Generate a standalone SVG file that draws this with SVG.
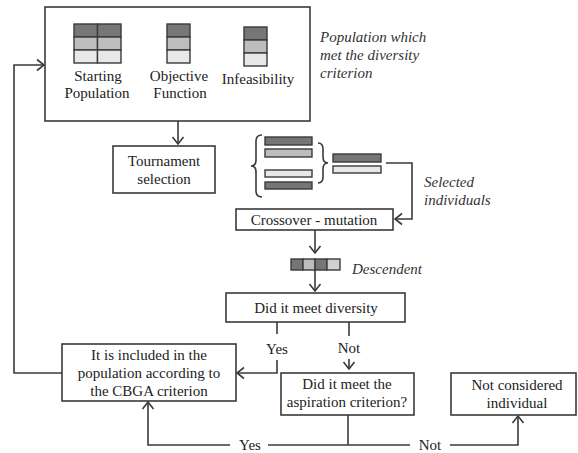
<svg xmlns="http://www.w3.org/2000/svg" width="578" height="453" viewBox="0 0 578 453" font-family="Liberation Serif, DejaVu Serif, serif">
<defs>
<style>
.box{fill:#fff;stroke:#3a3a3a;stroke-width:1.6}
.ln{fill:none;stroke:#3a3a3a;stroke-width:1.6}
.t{font-size:15px;fill:#222;text-anchor:middle}
.it{font-size:15px;font-style:italic;fill:#333}
.dk{fill:#767676;stroke:#3a3a3a;stroke-width:1.4}
.md{fill:#bdbdbd;stroke:#3a3a3a;stroke-width:1.4}
.lt{fill:#e8e8e8;stroke:#3a3a3a;stroke-width:1.4}
</style>
<marker id="arr" markerUnits="userSpaceOnUse" markerWidth="12" markerHeight="14" refX="0" refY="0" viewBox="-9 -7 11 14" orient="auto">
<path d="M-7,-5.5 L0,0 L-7,5.5" fill="none" stroke="#3a3a3a" stroke-width="1.6"/>
</marker>
</defs>
<rect width="578" height="453" fill="#fff"/>

<g id="population">
<rect class="box" x="45" y="7" width="265" height="114"/>
<g id="icon-start">
<rect class="dk" x="74" y="24" width="23.5" height="13"/>
<rect class="dk" x="97.5" y="24" width="23.5" height="13"/>
<rect class="md" x="74" y="37" width="23.5" height="13"/>
<rect class="md" x="97.5" y="37" width="23.5" height="13"/>
<rect class="lt" x="74" y="50" width="23.5" height="13"/>
<rect class="lt" x="97.5" y="50" width="23.5" height="13"/>
</g>
<g id="icon-obj">
<rect class="dk" x="167" y="24" width="23" height="13"/>
<rect class="md" x="167" y="37" width="23" height="13"/>
<rect class="lt" x="167" y="50" width="23" height="13"/>
</g>
<g id="icon-inf">
<rect class="dk" x="244" y="27" width="23" height="13"/>
<rect class="md" x="244" y="40" width="23" height="13"/>
<rect class="lt" x="244" y="53" width="23" height="13"/>
</g>
<text class="t" x="98" y="81">Starting</text>
<text class="t" x="97" y="98">Population</text>
<text class="t" x="179" y="81">Objective</text>
<text class="t" x="180" y="98">Function</text>
<text class="t" x="258" y="84">Infeasibility</text>
</g>
<g id="note-population">
<text class="it" x="320" y="42">Population which</text>
<text class="it" x="320" y="60">met the diversity</text>
<text class="it" x="320" y="78">criterion</text>
</g>

<g id="tournament">
<rect class="box" x="113" y="146" width="102" height="47"/>
<text class="t" x="164" y="166">Tournament</text>
<text class="t" x="164" y="184">selection</text>
</g>

<g id="selection-bars">
<path class="ln" d="M262,135 Q256,135 256,141 L256,160 Q256,166 251,166 Q256,166 256,172 L256,191 Q256,197 262,197"/>
<rect class="dk" x="265" y="137" width="47" height="8"/>
<rect class="md" x="265" y="149" width="47" height="8"/>
<rect class="lt" x="265" y="170" width="47" height="7"/>
<rect class="dk" x="265" y="182" width="47" height="7"/>
<path class="ln" d="M318,143 Q323,143 323,149 L323,157 Q323,163 328,163 Q323,163 323,169 L323,177 Q323,183 318,183"/>
<rect class="dk" x="333" y="154" width="48" height="8"/>
<rect class="lt" x="333" y="166" width="48" height="7"/>
</g>
<g id="note-selected">
<text class="it" x="424" y="187">Selected</text>
<text class="it" x="424" y="205">individuals</text>
</g>

<g id="crossover">
<rect class="box" x="236" y="209" width="157" height="21"/>
<text class="t" x="314" y="225">Crossover - mutation</text>
</g>

<g id="descendent">
<rect class="dk" x="291" y="259" width="12" height="11"/>
<rect class="md" x="303" y="259" width="12" height="11"/>
<rect class="dk" x="315" y="259" width="12" height="11"/>
<rect class="md" x="327" y="259" width="13" height="11" style="fill:#d0d0d0"/>
<text class="it" x="352" y="274">Descendent</text>
</g>

<g id="diversity">
<rect class="box" x="226" y="293" width="179" height="29"/>
<text class="t" x="316" y="313">Did it meet diversity</text>
</g>

<g id="included">
<rect class="box" x="62" y="344" width="174" height="57"/>
<text class="t" x="149" y="360">It is included in the</text>
<text class="t" x="149" y="378">population according to</text>
<text class="t" x="149" y="396">the CBGA criterion</text>
</g>

<g id="aspiration">
<rect class="box" x="281" y="373" width="133" height="42"/>
<text class="t" x="347" y="389">Did it meet the</text>
<text class="t" x="347" y="407">aspiration criterion?</text>
</g>

<g id="not-considered">
<rect class="box" x="451" y="373" width="125" height="42"/>
<text class="t" x="517" y="390">Not considered</text>
<text class="t" x="517" y="408">individual</text>
</g>

<g id="connectors">
<polyline class="ln" points="62,373 14,373 14,65 44,65" marker-end="url(#arr)"/>
<polyline class="ln" points="178,121 178,144" marker-end="url(#arr)"/>
<polyline class="ln" points="386,163 412,163 412,219 395,219" marker-end="url(#arr)"/>
<polyline class="ln" points="315,230 315,253" marker-end="url(#arr)"/>
<polyline class="ln" points="315,270 315,291" marker-end="url(#arr)"/>
<polyline class="ln" points="277,322 277,334"/>
<polyline class="ln" points="277,360 277,373 237,373" marker-end="url(#arr)"/>
<polyline class="ln" points="349,322 349,336"/>
<polyline class="ln" points="349,359 349,369" marker-end="url(#arr)"/>
<polyline class="ln" points="348,415 348,445"/>
<polyline class="ln" points="348,445 268,445"/>
<polyline class="ln" points="230,445 148,445 148,402" marker-end="url(#arr)"/>
<polyline class="ln" points="348,445 410,445"/>
<polyline class="ln" points="450,445 518,445 518,416" marker-end="url(#arr)"/>
<text class="t" x="277" y="354">Yes</text>
<text class="t" x="349" y="353">Not</text>
<text class="t" x="250" y="450">Yes</text>
<text class="t" x="430" y="450">Not</text>
</g>
</svg>
